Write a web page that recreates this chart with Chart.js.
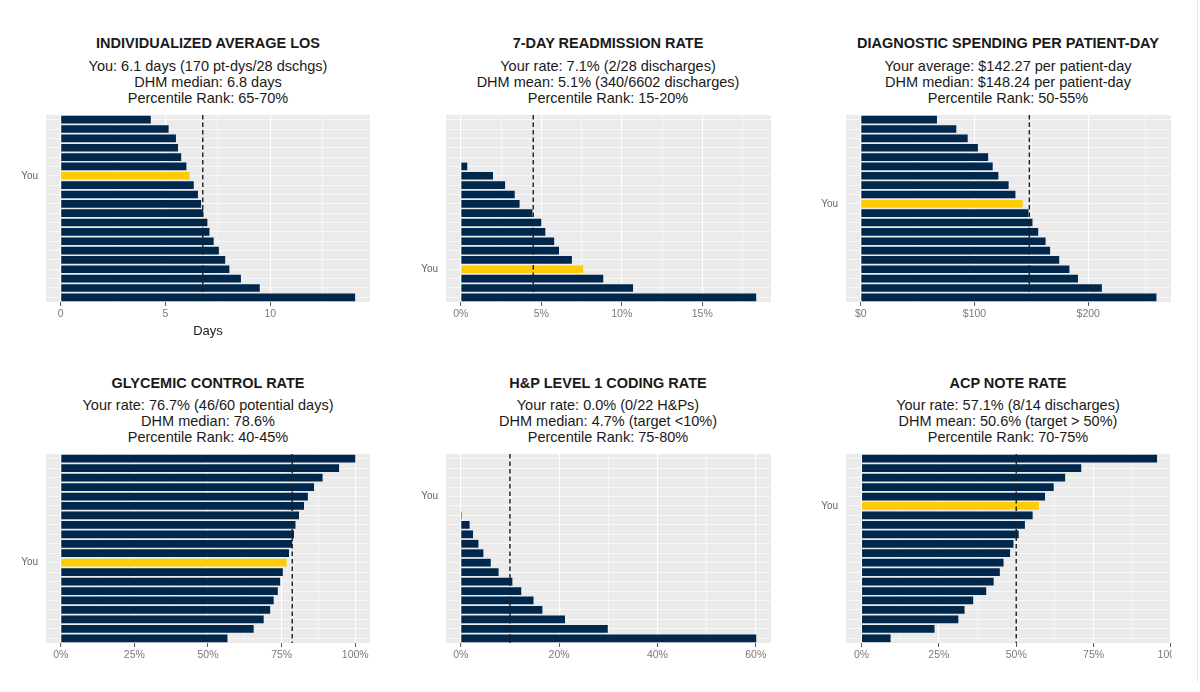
<!DOCTYPE html>
<html>
<head>
<meta charset="utf-8">
<script src="https://cdn.jsdelivr.net/npm/chart.js@4.4.0/dist/chart.umd.min.js"></script>
<style>
  body { margin: 0; background: #fff; width: 1200px; height: 692px; overflow: hidden; position: relative; font-family: "Liberation Sans", Arial, sans-serif; }
  .panel { position: absolute; }
  .title { position: absolute; width: 400px; text-align: center; font-weight: bold; font-size: 14.5px; line-height: 16px; color: #1a1a1a; }
  .sub { position: absolute; width: 400px; text-align: center; font-size: 14.5px; line-height: 16px; color: #1a1a1a; }
  #edge { position: absolute; left: 1197px; top: 0; width: 1px; height: 682px; background: #e6e6e6; }
</style>
</head>
<body>
<div id="edge"></div>

<div class="title" style="left:8px;top:35px">INDIVIDUALIZED AVERAGE LOS</div>
<div class="sub" style="left:8px;top:58px">You: 6.1 days (170 pt-dys/28 dschgs)<br>DHM median: 6.8 days<br>Percentile Rank: 65-70%</div>
<div class="title" style="left:408px;top:35px">7-DAY READMISSION RATE</div>
<div class="sub" style="left:408px;top:58px">Your rate: 7.1% (2/28 discharges)<br>DHM mean: 5.1% (340/6602 discharges)<br>Percentile Rank: 15-20%</div>
<div class="title" style="left:808px;top:35px">DIAGNOSTIC SPENDING PER PATIENT-DAY</div>
<div class="sub" style="left:808px;top:58px">Your average: $142.27 per patient-day<br>DHM median: $148.24 per patient-day<br>Percentile Rank: 50-55%</div>

<div class="title" style="left:8px;top:375px">GLYCEMIC CONTROL RATE</div>
<div class="sub" style="left:8px;top:397px">Your rate: 76.7% (46/60 potential days)<br>DHM median: 78.6%<br>Percentile Rank: 40-45%</div>
<div class="title" style="left:408px;top:375px">H&amp;P LEVEL 1 CODING RATE</div>
<div class="sub" style="left:408px;top:397px">Your rate: 0.0% (0/22 H&amp;Ps)<br>DHM median: 4.7% (target &lt;10%)<br>Percentile Rank: 75-80%</div>
<div class="title" style="left:808px;top:375px">ACP NOTE RATE</div>
<div class="sub" style="left:808px;top:397px">Your rate: 57.1% (8/14 discharges)<br>DHM mean: 50.6% (target &gt; 50%)<br>Percentile Rank: 70-75%</div>

<div class="panel" style="left:0;top:112px;width:400px;height:235px"><canvas id="los"></canvas></div>
<div class="panel" style="left:400px;top:112px;width:400px;height:235px"><canvas id="readmit"></canvas></div>
<div class="panel" style="left:800px;top:112px;width:372px;height:235px"><canvas id="diag"></canvas></div>
<div class="panel" style="left:0;top:450px;width:400px;height:242px"><canvas id="glyc"></canvas></div>
<div class="panel" style="left:400px;top:450px;width:400px;height:242px"><canvas id="hp"></canvas></div>
<div class="panel" style="left:800px;top:450px;width:372px;height:242px"><canvas id="acp"></canvas></div>

<script>
// values per provider, top row of the plot first
const losValues = [4.3, 5.15, 5.5, 5.6, 5.75, 6.0, 6.15, 6.35, 6.55, 6.7, 6.8, 7.0, 7.1, 7.3, 7.55, 7.85, 8.05, 8.6, 9.5, 14.05];
const losYou = 6;
const losMedian = 6.78;
const losTicks = [0, 5, 10];
const losMinor = [2.5, 7.5, 12.5];

const readmitValues = [0, 0, 0, 0, 0, 0.4, 2.0, 2.75, 3.35, 3.65, 4.45, 5.0, 5.25, 5.8, 6.1, 6.9, 7.6, 8.85, 10.7, 18.35];
const readmitYou = 16;
const readmitMean = 4.5;
const readmitTicks = [0, 5, 10, 15];
const readmitMinor = [2.5, 7.5, 12.5, 17.5];

const diagValues = [67, 84, 94, 103, 112, 116, 121, 130, 136, 142.3, 147.5, 151, 156, 162.5, 166.5, 174.5, 183.5, 191, 212, 260];
const diagYou = 9;
const diagMedian = 148.24;
const diagTicks = [0, 100, 200];
const diagMinor = [50, 150, 250];

const glycValues = [100, 94.5, 88.9, 86, 83.9, 82.6, 80.9, 79.7, 79.2, 78.6, 77.5, 76.7, 75.4, 74.5, 73.7, 72.3, 71.1, 68.9, 65.5, 56.6];
const glycYou = 11;
const glycMedian = 78.6;
const pctTicks = [0, 25, 50, 75, 100];
const pctMinor = [12.5, 37.5, 62.5, 87.5];

const hpValues = [0, 0, 0, 0, 0, 0, 0.2, 1.8, 2.5, 3.6, 4.6, 6.1, 7.7, 10.5, 12.3, 14.8, 16.6, 21.2, 29.9, 60.1];
const hpYou = 4;
const hpTarget = 10;
const hpTicks = [0, 20, 40, 60];
const hpMinor = [10, 30, 50];

const acpValues = [95.5, 71, 65.8, 62.1, 59.3, 57.3, 55.3, 52.8, 50.8, 49.1, 48, 45.9, 44.7, 42.7, 40.3, 36.1, 33.3, 31.3, 23.6, 9.4];
const acpYou = 5;
const acpTarget = 50;

const navy = '#00274C';
const maize = '#FFCB05';
const font = '"Liberation Sans", Arial, sans-serif';

const panelBg = {
    id: 'panelBg',
    beforeDraw(chart) {
        const a = chart.chartArea;
        chart.ctx.save();
        chart.ctx.fillStyle = '#EBEBEB';
        chart.ctx.fillRect(a.left, a.top, a.right - a.left, a.bottom - a.top);
        chart.ctx.restore();
    }
};

const refLine = {
    id: 'refLine',
    afterDatasetsDraw(chart, args, opts) {
        const x = chart.scales.x.getPixelForValue(opts.value);
        const c = chart.ctx;
        c.save();
        c.strokeStyle = '#1e1e1e';
        c.lineWidth = 1.4;
        c.setLineDash([4.5, 3]);
        c.beginPath();
        c.moveTo(x, chart.chartArea.top);
        c.lineTo(x, chart.chartArea.bottom);
        c.stroke();
        c.restore();
    }
};

function makeChart(id, values, you, ref, xMin, xMax, major, minor, fmt, opt) {
    const labels = values.map((v, i) => i === you ? 'You' : '');
    return new Chart(document.getElementById(id), {
        type: 'bar',
        data: {
            labels: labels,
            datasets: [{
                data: values,
                backgroundColor: values.map((v, i) => i === you ? maize : navy),
                barPercentage: 0.82,
                categoryPercentage: 1
            }]
        },
        options: {
            indexAxis: 'y',
            responsive: true,
            maintainAspectRatio: false,
            animation: false,
            layout: { padding: { top: opt.padTop, right: opt.padRight, left: 0, bottom: 0 } },
            plugins: {
                legend: { display: false },
                tooltip: { enabled: false },
                refLine: { value: ref }
            },
            scales: {
                x: {
                    type: 'linear',
                    min: xMin,
                    max: xMax,
                    afterBuildTicks: (s) => {
                        s.ticks = major.concat(minor).sort((a, b) => a - b).map(v => ({ value: v }));
                    },
                    afterFit: (s) => {
                        s.height = opt.axisH;
                        s.paddingLeft = 0;
                        s.paddingRight = 0;
                    },
                    border: { display: false },
                    grid: {
                        color: '#fff',
                        lineWidth: (c) => major.includes(c.tick.value) ? 1.1 : 0.5,
                        drawTicks: true,
                        tickLength: 4,
                        tickWidth: 1,
                        tickColor: (c) => major.includes(c.tick.value) ? '#555' : 'rgba(0,0,0,0)'
                    },
                    ticks: {
                        autoSkip: false,
                        maxRotation: 0,
                        padding: 2,
                        color: '#7a7a7a',
                        font: { family: font, size: 10.5 },
                        callback: (v) => major.includes(v) ? fmt(v) : ''
                    },
                    title: {
                        display: !!opt.xTitle,
                        text: opt.xTitle || '',
                        color: '#1a1a1a',
                        font: { family: font, size: 13 },
                        padding: { top: 2, bottom: 8 }
                    }
                },
                y: {
                    afterFit: (s) => {
                        s.width = 46;
                        s.paddingTop = 0;
                        s.paddingBottom = 0;
                    },
                    border: { display: false },
                    grid: { color: '#fff', lineWidth: 0.6, offset: false, drawTicks: false },
                    ticks: {
                        autoSkip: false,
                        padding: 8,
                        color: '#666',
                        font: { family: font, size: 10 }
                    }
                }
            }
        },
        plugins: [panelBg, refLine]
    });
}

const plain = (v) => String(v);
const pct = (v) => v + '%';
const dollars = (v) => '$' + v;

const topRow = { padTop: 3, axisH: 45 };
const bottomRow = { padTop: 4, axisH: 49 };

makeChart('los', losValues, losYou, losMedian, -0.7, 14.76, losTicks, losMinor, plain,
    Object.assign({ padRight: 30, xTitle: 'Days' }, topRow));
makeChart('readmit', readmitValues, readmitYou, readmitMean, -0.92, 19.27, readmitTicks, readmitMinor, pct,
    Object.assign({ padRight: 29 }, topRow));
makeChart('diag', diagValues, diagYou, diagMedian, -13, 272.8, diagTicks, diagMinor, dollars,
    Object.assign({ padRight: 1 }, topRow));
makeChart('glyc', glycValues, glycYou, glycMedian, -5, 105, pctTicks, pctMinor, pct,
    Object.assign({ padRight: 30 }, bottomRow));
makeChart('hp', hpValues, hpYou, hpTarget, -3, 63.1, hpTicks, hpMinor, pct,
    Object.assign({ padRight: 29 }, bottomRow));
makeChart('acp', acpValues, acpYou, acpTarget, -5, 100, pctTicks, pctMinor, pct,
    Object.assign({ padRight: 1 }, bottomRow));
</script>
</body>
</html>
